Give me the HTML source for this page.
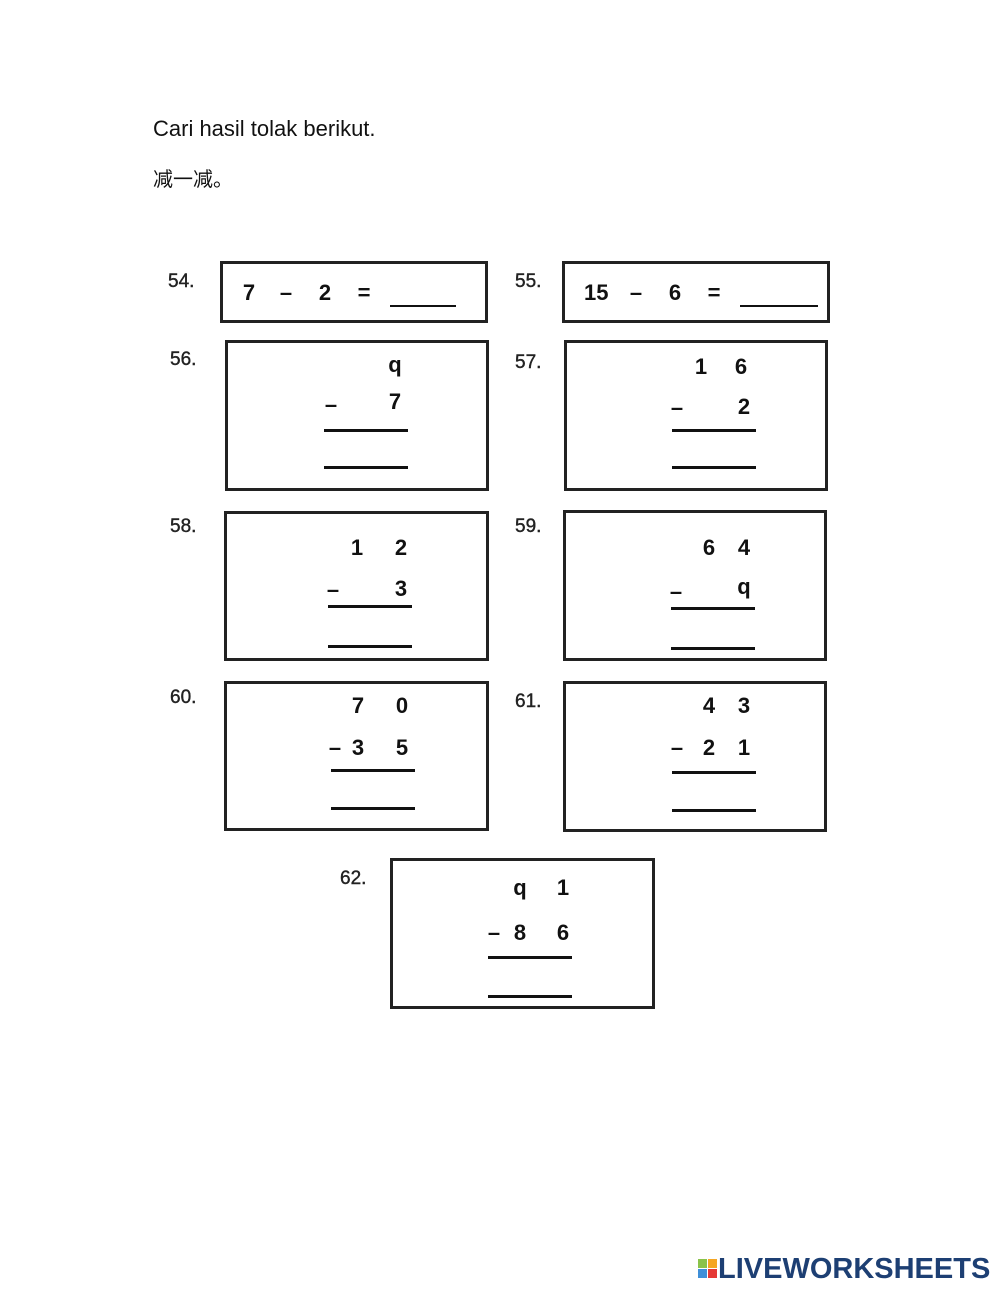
<!DOCTYPE html>
<html><head><meta charset="utf-8"><style>
body{margin:0;width:1000px;height:1291px;background:#fff;position:relative;font-family:"Liberation Sans",sans-serif;overflow:hidden}
.a{position:absolute}
.b{position:absolute;border:3px solid #222;box-sizing:border-box}
.d{position:absolute;width:24px;margin-left:-12px;text-align:center;font-weight:bold;font-size:22px;line-height:26px;margin-top:-13px;color:#111}
.l{position:absolute;font-size:19px;color:#222;line-height:22px;margin-top:-11px;-webkit-text-stroke:0.4px #222}
.h{position:absolute;height:3px;background:#111;margin-top:-1px}
</style></head><body>
<div class="a" style="left:153px;top:116px;font-size:22px;color:#111">Cari hasil tolak berikut.</div>
<div class="a" style="left:153px;top:163px;font-size:20px;color:#111;font-family:'Liberation Sans','Noto Sans CJK SC',sans-serif">减一减。</div>

<div class="b" style="left:220px;top:261px;width:268px;height:62px"></div>
<div class="b" style="left:562px;top:261px;width:268px;height:62px"></div>
<div class="b" style="left:225px;top:340px;width:264px;height:151px"></div>
<div class="b" style="left:564px;top:340px;width:264px;height:151px"></div>
<div class="b" style="left:224px;top:511px;width:265px;height:150px"></div>
<div class="b" style="left:563px;top:510px;width:264px;height:151px"></div>
<div class="b" style="left:224px;top:681px;width:265px;height:150px"></div>
<div class="b" style="left:563px;top:681px;width:264px;height:151px"></div>
<div class="b" style="left:390px;top:858px;width:265px;height:151px"></div>

<div class="l" style="left:168px;top:282px">54.</div>
<div class="l" style="left:515px;top:282px">55.</div>
<div class="l" style="left:170px;top:360px">56.</div>
<div class="l" style="left:515px;top:363px">57.</div>
<div class="l" style="left:170px;top:527px">58.</div>
<div class="l" style="left:515px;top:527px">59.</div>
<div class="l" style="left:170px;top:698px">60.</div>
<div class="l" style="left:515px;top:702px">61.</div>
<div class="l" style="left:340px;top:879px">62.</div>

<!-- 54 -->
<div class="d" style="left:249px;top:293px">7</div>
<div class="d" style="left:286px;top:293px">–</div>
<div class="d" style="left:325px;top:293px">2</div>
<div class="d" style="left:364px;top:293px">=</div>
<div class="h" style="left:390px;top:306px;width:66px;height:2px"></div>
<!-- 55 -->
<div class="d" style="left:596px;top:293px">15</div>
<div class="d" style="left:636px;top:293px">–</div>
<div class="d" style="left:675px;top:293px">6</div>
<div class="d" style="left:714px;top:293px">=</div>
<div class="h" style="left:740px;top:306px;width:78px;height:2px"></div>
<!-- 56 -->
<div class="d" style="left:395px;top:365px">q</div>
<div class="d" style="left:331px;top:405px">–</div>
<div class="d" style="left:395px;top:402px">7</div>
<div class="h" style="left:324px;top:430px;width:84px"></div>
<div class="h" style="left:324px;top:467px;width:84px"></div>
<!-- 57 -->
<div class="d" style="left:701px;top:367px">1</div>
<div class="d" style="left:741px;top:367px">6</div>
<div class="d" style="left:677px;top:408px">–</div>
<div class="d" style="left:744px;top:407px">2</div>
<div class="h" style="left:672px;top:430px;width:84px"></div>
<div class="h" style="left:672px;top:467px;width:84px"></div>
<!-- 58 -->
<div class="d" style="left:357px;top:548px">1</div>
<div class="d" style="left:401px;top:548px">2</div>
<div class="d" style="left:333px;top:590px">–</div>
<div class="d" style="left:401px;top:589px">3</div>
<div class="h" style="left:328px;top:606px;width:84px"></div>
<div class="h" style="left:328px;top:646px;width:84px"></div>
<!-- 59 -->
<div class="d" style="left:709px;top:548px">6</div>
<div class="d" style="left:744px;top:548px">4</div>
<div class="d" style="left:676px;top:592px">–</div>
<div class="d" style="left:744px;top:587px">q</div>
<div class="h" style="left:671px;top:608px;width:84px"></div>
<div class="h" style="left:671px;top:648px;width:84px"></div>
<!-- 60 -->
<div class="d" style="left:358px;top:706px">7</div>
<div class="d" style="left:402px;top:706px">0</div>
<div class="d" style="left:335px;top:748px">–</div>
<div class="d" style="left:358px;top:748px">3</div>
<div class="d" style="left:402px;top:748px">5</div>
<div class="h" style="left:331px;top:770px;width:84px"></div>
<div class="h" style="left:331px;top:808px;width:84px"></div>
<!-- 61 -->
<div class="d" style="left:709px;top:706px">4</div>
<div class="d" style="left:744px;top:706px">3</div>
<div class="d" style="left:677px;top:748px">–</div>
<div class="d" style="left:709px;top:748px">2</div>
<div class="d" style="left:744px;top:748px">1</div>
<div class="h" style="left:672px;top:772px;width:84px"></div>
<div class="h" style="left:672px;top:810px;width:84px"></div>
<!-- 62 -->
<div class="d" style="left:520px;top:888px">q</div>
<div class="d" style="left:563px;top:888px">1</div>
<div class="d" style="left:494px;top:933px">–</div>
<div class="d" style="left:520px;top:933px">8</div>
<div class="d" style="left:563px;top:933px">6</div>
<div class="h" style="left:488px;top:957px;width:84px"></div>
<div class="h" style="left:488px;top:996px;width:84px"></div>

<!-- logo -->
<div class="a" style="left:698px;top:1259px;width:9px;height:9px;background:#8bc34a"></div>
<div class="a" style="left:708px;top:1259px;width:9px;height:9px;background:#f5a623"></div>
<div class="a" style="left:698px;top:1269px;width:9px;height:9px;background:#3f8fd8"></div>
<div class="a" style="left:708px;top:1269px;width:9px;height:9px;background:#e53935"></div>
<div class="a" style="left:718px;top:1253px;font-weight:bold;font-size:29px;color:#1d3f73;line-height:32px">LIVEWORKSHEETS</div>
</body></html>
